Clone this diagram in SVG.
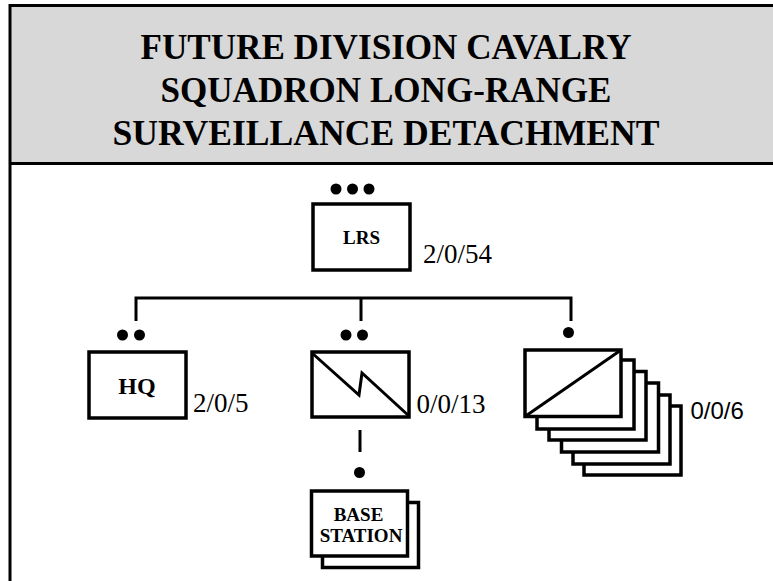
<svg xmlns="http://www.w3.org/2000/svg" width="773" height="581" viewBox="0 0 773 581">
<style>
.box{fill:#fff;stroke:#000;stroke-width:3.5}
.ln{stroke:#000;stroke-width:3;fill:none}
.dot{fill:#000}
</style>
<rect width="773" height="581" fill="#fff"/>
<g id="frame">
<rect x="11" y="6" width="770" height="157" fill="#d8d8d8"/>
<line x1="10" y1="5.5" x2="773" y2="5.5" stroke="#000" stroke-width="3"/>
<line x1="10" y1="163.5" x2="773" y2="163.5" stroke="#000" stroke-width="3"/>
<line x1="10" y1="4" x2="10" y2="581" stroke="#000" stroke-width="3"/>
</g>
<g id="title">
<text x="386" y="59" font-family="Times New Roman, serif" font-size="36" font-weight="bold" text-anchor="middle" textLength="491" lengthAdjust="spacingAndGlyphs">FUTURE DIVISION  CAVALRY</text>
<text x="386" y="102" font-family="Times New Roman, serif" font-size="36" font-weight="bold" text-anchor="middle" textLength="451" lengthAdjust="spacingAndGlyphs">SQUADRON LONG-RANGE</text>
<text x="386" y="145" font-family="Times New Roman, serif" font-size="36" font-weight="bold" text-anchor="middle" textLength="547" lengthAdjust="spacingAndGlyphs">SURVEILLANCE  DETACHMENT</text>
</g>
<g id="connectors">
<polyline class="ln" points="136,321 136,298 571,298 571,321"/>
<line class="ln" x1="361" y1="298" x2="361" y2="321"/>
<line class="ln" x1="360" y1="430" x2="360" y2="452"/>
</g>
<g id="lrs">
<circle class="dot" cx="336" cy="189" r="5.5"/>
<circle class="dot" cx="352.5" cy="189" r="5.5"/>
<circle class="dot" cx="369" cy="189" r="5.5"/>
<rect class="box" x="313" y="204" width="97" height="66"/>
<text x="361.5" y="244" font-family="Times New Roman, serif" font-size="19" font-weight="bold" text-anchor="middle">LRS</text>
<text x="423" y="263" font-family="Times New Roman, serif" font-size="27">2/0/54</text>
</g>
<g id="hq">
<circle class="dot" cx="122.5" cy="335" r="5.5"/>
<circle class="dot" cx="139.5" cy="335" r="5.5"/>
<rect class="box" x="89" y="352" width="97" height="66"/>
<text x="137" y="394" font-family="Times New Roman, serif" font-size="24" font-weight="bold" text-anchor="middle">HQ</text>
<text x="193" y="412" font-family="Times New Roman, serif" font-size="27">2/0/5</text>
</g>
<g id="signal">
<circle class="dot" cx="346" cy="335" r="5.5"/>
<circle class="dot" cx="362.5" cy="335" r="5.5"/>
<rect class="box" x="312" y="352" width="97" height="65"/>
<polyline class="ln" points="312,353 359,395 362,373 409,416"/>
<text x="416.5" y="413" font-family="Times New Roman, serif" font-size="27">0/0/13</text>
</g>
<g id="basestation">
<circle class="dot" cx="359.5" cy="472.5" r="5.5"/>
<rect class="box" x="322.5" y="502.5" width="96" height="65"/>
<rect class="box" x="311.5" y="491" width="96" height="65"/>
<text x="358.5" y="521" font-family="Times New Roman, serif" font-size="19" font-weight="bold" text-anchor="middle">BASE</text>
<text x="361" y="542" font-family="Times New Roman, serif" font-size="19" font-weight="bold" text-anchor="middle">STATION</text>
</g>
<g id="teams">
<circle class="dot" cx="568.5" cy="332.5" r="5.5"/>
<rect class="box" x="584" y="406" width="97" height="69"/>
<rect class="box" x="573" y="395" width="97" height="69"/>
<rect class="box" x="561.5" y="383" width="97" height="69"/>
<rect class="box" x="549" y="371.5" width="97" height="68.5"/>
<rect class="box" x="537" y="360" width="97" height="69"/>
<rect class="box" x="525" y="350" width="96" height="66.5"/>
<line class="ln" x1="525" y1="416.5" x2="621" y2="350"/>
<text x="690.5" y="419" font-family="Liberation Sans, Arial, sans-serif" font-size="24">0/0/6</text>
</g>
</svg>
